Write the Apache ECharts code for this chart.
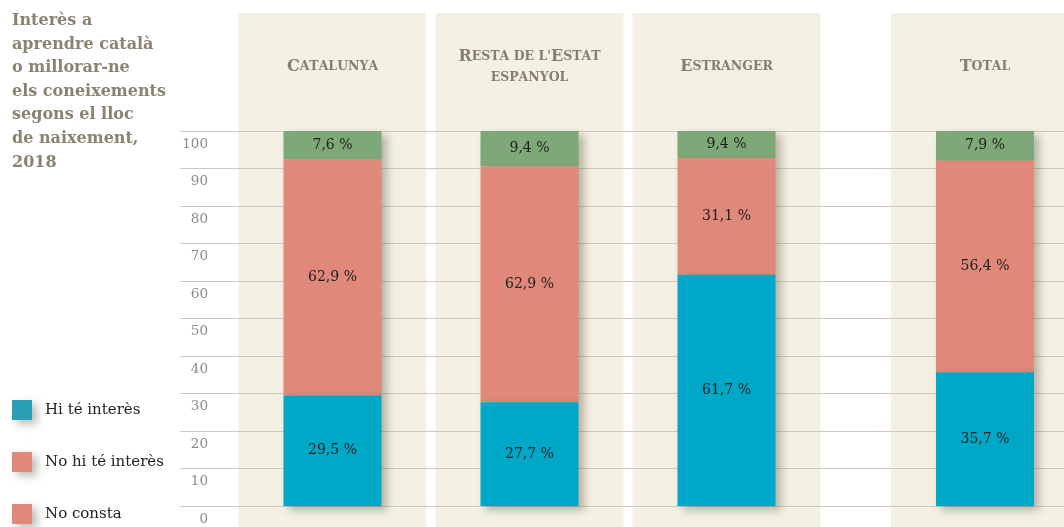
<!DOCTYPE html>
<html>
<head>
<meta charset="utf-8">
<script src="https://cdn.jsdelivr.net/npm/echarts@6/dist/echarts.min.js"></script>
<style>
  html, body { margin: 0; padding: 0; background: #fff; }
  #chart { width: 1064px; height: 527px; }
</style>
</head>
<body>
<div id="chart"></div>
<script>
const categories = ['Catalunya', "Resta de l'Estat\nespanyol", 'Estranger', 'Total']
const hiTeInteres = [29.5, 27.7, 61.7, 35.7]
const noHiTeInteres = [62.9, 62.9, 31.1, 56.4]
const noConsta = [7.6, 9.4, 9.4, 7.9]
const yTicks = [0, 10, 20, 30, 40, 50, 60, 70, 80, 90, 100]

const SERIF = 'DejaVu Serif'
const BLUE = '#00a8c8'
const RED = '#e0887a'
const GREEN = '#7fa878'
const PANEL = '#f4f0e3'

function smallCaps(name) {
    let out = ''
    for (const ch of name) {
        if (ch === '\n') { out += '\n'; continue }
        const big = ch !== ch.toLowerCase()
        out += '{' + (big ? 'b' : 's') + '|' + ch.toUpperCase() + '}'
    }
    return out
}

function pct(p) {
    return p.value.toFixed(1).replace('.', ',') + ' %'
}

const shadow = {
    shadowBlur: 8,
    shadowOffsetX: 5,
    shadowOffsetY: 4,
    shadowColor: 'rgba(70, 60, 40, 0.35)'
}

const headerLabel = {
    inside: true, margin: 54, verticalAlign: 'middle', align: 'center', interval: 0,
    formatter: smallCaps,
    rich: {
        b: { fontFamily: SERIF, fontWeight: 'bold', fontSize: 16, color: '#857e6d', lineHeight: 21 },
        s: { fontFamily: SERIF, fontWeight: 'bold', fontSize: 12.5, color: '#857e6d', lineHeight: 21 }
    }
}

// grid 0: axis + gridlines, 1/2: panels, 3/4: bars
// the Total column is cut by the right edge, so its grid is narrow and centred on the column
const grids = [
    { left: 180, right: 0, top: 131, bottom: 21 },
    { left: 234, width: 591, top: 13, bottom: 0 },
    { left: 906, right: 0, top: 13, bottom: 0 },
    { left: 234, width: 591, top: 131, bottom: 21 },
    { left: 906, right: 0, top: 131, bottom: 21 }
]

const catGroups = [categories.slice(0, 3), categories.slice(3)]

function barSeries(name, values, color, z) {
    const parts = [values.slice(0, 3), values.slice(3)]
    return parts.map((d, i) => ({
        name: name,
        type: 'bar',
        xAxisIndex: 3 + i,
        yAxisIndex: 3 + i,
        stack: 'g' + i,
        barWidth: 98,
        z: z,
        data: d,
        itemStyle: Object.assign({ color: color }, shadow),
        label: {
            show: true,
            position: 'inside',
            formatter: pct,
            fontFamily: SERIF,
            fontSize: 14,
            color: '#1e1e1e'
        }
    }))
}

const dom = document.getElementById('chart')
const myChart = echarts.init(dom, null, { renderer: 'canvas' })

const option = {
    animation: false,
    title: {
        text: 'Interès a\naprendre català\no millorar-ne\nels coneixements\nsegons el lloc\nde naixement,\n2018',
        left: 12,
        top: 9,
        padding: 0,
        textStyle: {
            fontFamily: SERIF,
            fontWeight: 'bold',
            fontSize: 16,
            lineHeight: 23.6,
            color: '#8a8372'
        }
    },
    legend: {
        orient: 'vertical',
        left: 12,
        top: 400,
        padding: 0,
        itemWidth: 20,
        itemHeight: 20,
        itemGap: 32,
        icon: 'rect',
        textStyle: { fontFamily: SERIF, fontSize: 15, color: '#222', padding: [0, 0, 0, 8] },
        itemStyle: shadow,
        data: [
            { name: 'Hi té interès', itemStyle: { color: '#2b9db5' } },
            { name: 'No hi té interès', itemStyle: { color: RED } },
            { name: 'No consta', itemStyle: { color: RED } }
        ],
        selectedMode: false
    },
    grid: grids,
    xAxis: [
        { gridIndex: 0, type: 'value', show: false, min: 0, max: 1 },
        {
            gridIndex: 1, type: 'category', data: catGroups[0], position: 'top',
            axisLine: { show: false }, axisTick: { show: false },
            axisLabel: headerLabel
        },
        {
            gridIndex: 2, type: 'category', data: catGroups[1], position: 'top',
            axisLine: { show: false }, axisTick: { show: false },
            axisLabel: headerLabel
        },
        { gridIndex: 3, type: 'category', data: catGroups[0], show: false },
        { gridIndex: 4, type: 'category', data: catGroups[1], show: false }
    ],
    yAxis: [
        {
            gridIndex: 0, type: 'value', min: 0, max: 100, interval: 10, z: 1,
            axisLine: { show: false }, axisTick: { show: false },
            splitLine: { lineStyle: { color: '#cdc9c0', width: 1 } },
            axisLabel: {
                inside: true, margin: 28, align: 'right', verticalAlign: 'top',
                padding: [6, 0, 0, 0],
                fontFamily: SERIF, fontSize: 13.5, color: '#8a8a8a',
                formatter: v => yTicks.includes(v) ? String(v) : ''
            }
        },
        { gridIndex: 1, type: 'value', min: 0, max: 1, show: false },
        { gridIndex: 2, type: 'value', min: 0, max: 1, show: false },
        { gridIndex: 3, type: 'value', min: 0, max: 100, show: false },
        { gridIndex: 4, type: 'value', min: 0, max: 100, show: false }
    ],
    series: [
        {
            type: 'bar', xAxisIndex: 1, yAxisIndex: 1, barWidth: 188, z: 0, silent: true,
            data: catGroups[0].map(() => 1), itemStyle: { color: PANEL }
        },
        {
            type: 'bar', xAxisIndex: 2, yAxisIndex: 2, barWidth: 188, z: 0, silent: true, clip: false,
            data: catGroups[1].map(() => 1), itemStyle: { color: PANEL }
        },
        ...barSeries('Hi té interès', hiTeInteres, BLUE, 5),
        ...barSeries('No hi té interès', noHiTeInteres, RED, 4),
        ...barSeries('No consta', noConsta, GREEN, 3)
    ]
}

option && myChart.setOption(option)
window.addEventListener('resize', myChart.resize)
</script>
</body>
</html>
